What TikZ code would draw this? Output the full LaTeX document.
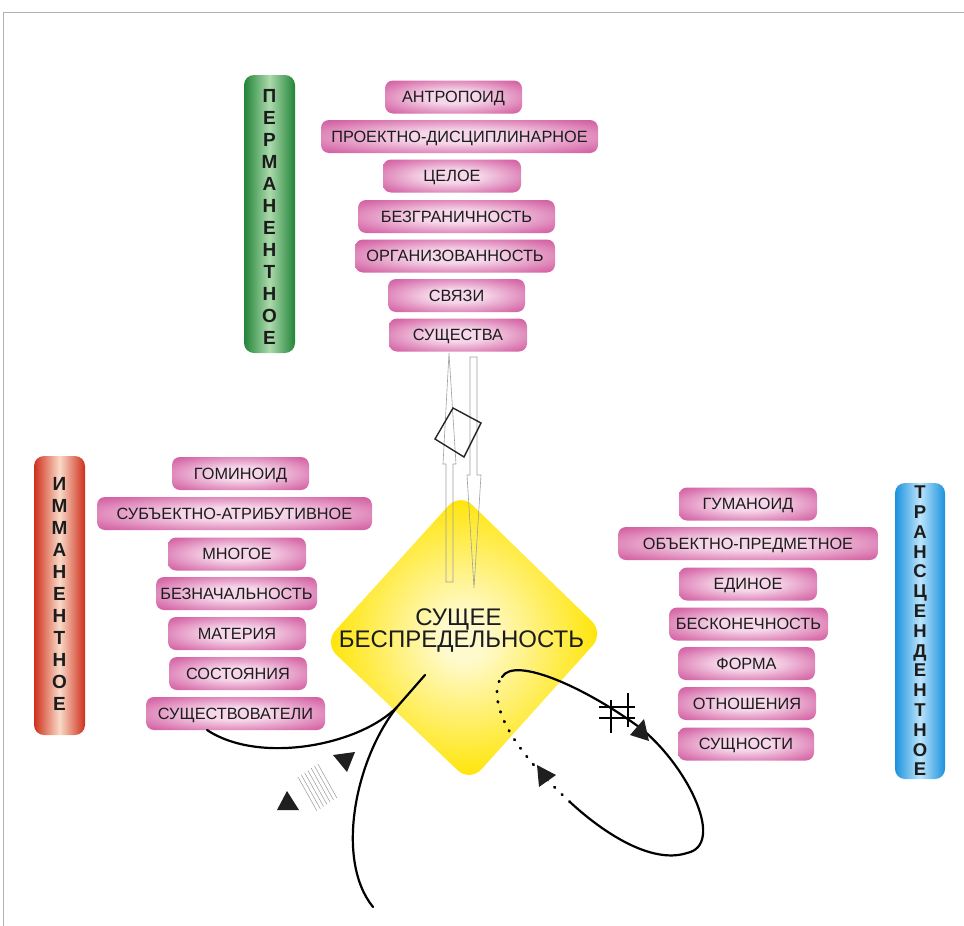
\documentclass[tikz,border=0pt]{standalone}
\usepackage{fontspec}
\setmainfont{Liberation Sans}
\definecolor{pinkD}{RGB}{196,64,142}
\definecolor{pinkM}{RGB}{216,112,172}
\definecolor{pinkL}{RGB}{246,214,233}
\definecolor{gD}{RGB}{34,132,56}
\definecolor{gL}{RGB}{172,218,172}
\definecolor{rD}{RGB}{206,48,28}
\definecolor{rL}{RGB}{250,218,200}
\definecolor{bD}{RGB}{26,146,220}
\definecolor{bL}{RGB}{188,228,252}
\definecolor{yD}{RGB}{255,228,0}
\definecolor{yL}{RGB}{255,250,205}
\definecolor{txt}{RGB}{28,28,28}
\pgfdeclareradialshading{pinksh}{\pgfpoint{0bp}{0bp}}{color(0bp)=(pinkL); color(10bp)=(pinkL); color(30bp)=(pinkM); color(43bp)=(pinkD); color(100bp)=(pinkD)}
\pgfdeclareradialshading{yelsh}{\pgfpoint{0bp}{0bp}}{color(0bp)=(yL); color(4bp)=(yL); color(25bp)=(yD); color(100bp)=(yD)}
\tikzset{
  pbox/.style={shape=rectangle, rounded corners=8pt, shade, shading=pinksh,
    minimum height=33pt, inner sep=0pt, text=txt,
    font=\fontsize{16.3}{19}\selectfont, text height=11.7pt, text depth=0pt},
  vbar/.style={shape=rectangle, rounded corners=10pt, inner sep=0pt},
  barlet/.style={align=center, text=txt, inner sep=0pt,
    font=\bfseries\fontsize{19}{22}\selectfont},
  ctext/.style={anchor=base, text=txt, inner sep=0pt, font=\fontsize{24}{23}\selectfont},
  harrow/.style={draw=gray!75, line width=0.6pt},
  curve/.style={line width=2.2pt, line cap=round},
  dotline/.style={line width=2.8pt, line cap=round, dash pattern=on 0.8pt off 9.6pt},
  hatch/.style={draw=gray!80, line width=0.5pt},
  tri/.style={fill=black!88}
}
\begin{document}
\begin{tikzpicture}[x=1pt,y=-1pt]
\useasboundingbox (0,0) rectangle (964,926);
\draw[gray!60, line width=0.8pt] (964,12) -- (3,12) -- (3,926);

% side bars
\node[vbar, minimum width=51pt, minimum height=278pt, left color=gD, right color=gD, middle color=gL] (gbar) at (269.5,214) {};
\node[barlet] (glet) at (269.5,216.5) {П\\Е\\Р\\М\\А\\Н\\Е\\Н\\Т\\Н\\О\\Е};
\node[vbar, minimum width=51pt, minimum height=279pt, left color=rD, right color=rD, middle color=rL] (rbar) at (59.5,595.5) {};
\node[barlet] (rlet) at (59.5,593.5) {И\\М\\М\\А\\Н\\Е\\Н\\Т\\Н\\О\\Е};
\node[vbar, minimum width=50pt, minimum height=296pt, left color=bD, right color=bD, middle color=bL] (bbar) at (920,631) {};
\node[barlet, font=\bfseries\fontsize{18.5}{19.8}\selectfont] (blet) at (920,631) {Т\\Р\\А\\Н\\С\\Ц\\Е\\Н\\Д\\Е\\Н\\Т\\Н\\О\\Е};

% top stack
\node[pbox, minimum width=137pt] (t1) at (453.5,97) {АНТРОПОИД};
\node[pbox, minimum width=277pt] (t2) at (459.5,136.5) {ПРОЕКТНО-ДИСЦИПЛИНАРНОЕ};
\node[pbox, minimum width=138pt] (t3) at (452,176) {ЦЕЛОЕ};
\node[pbox, minimum width=197pt] (t4) at (456.5,216.5) {БЕЗГРАНИЧНОСТЬ};
\node[pbox, minimum width=200pt] (t5) at (455,256) {ОРГАНИЗОВАННОСТЬ};
\node[pbox, minimum width=137pt] (t6) at (456.5,295.5) {СВЯЗИ};
\node[pbox, minimum width=138pt] (t7) at (458,335) {СУЩЕСТВА};

% left stack
\node[pbox, minimum width=137pt] (l1) at (240.5,473.5) {ГОМИНОИД};
\node[pbox, minimum width=275pt] (l2) at (234.5,513.5) {СУБЪЕКТНО-АТРИБУТИВНОЕ};
\node[pbox, minimum width=138pt] (l3) at (237,554) {МНОГОЕ};
\node[pbox, minimum width=161pt] (l4) at (236.5,593.5) {БЕЗНАЧАЛЬНОСТЬ};
\node[pbox, minimum width=138pt] (l5) at (237,633.5) {МАТЕРИЯ};
\node[pbox, minimum width=138pt] (l6) at (238,673.5) {СОСТОЯНИЯ};
\node[pbox, minimum width=179pt] (l7) at (235.5,713.5) {СУЩЕСТВОВАТЕЛИ};

% right stack
\node[pbox, minimum width=138pt] (r1) at (748,504) {ГУМАНОИД};
\node[pbox, minimum width=260pt] (r2) at (748,543.5) {ОБЪЕКТНО-ПРЕДМЕТНОЕ};
\node[pbox, minimum width=138pt] (r3) at (748,584) {ЕДИНОЕ};
\node[pbox, minimum width=159pt] (r4) at (748.5,624) {БЕСКОНЕЧНОСТЬ};
\node[pbox, minimum width=137pt] (r5) at (746.5,663.5) {ФОРМА};
\node[pbox, minimum width=138pt] (r6) at (747,703.5) {ОТНОШЕНИЯ};
\node[pbox, minimum width=136pt] (r7) at (746,744) {СУЩНОСТИ};

% central diamond
\shade[shading=yelsh, rounded corners=17pt] (460,493) -- (604,633) -- (470,782) -- (324,643) -- cycle;
\node[ctext] (c1) at (458.5,625) {СУЩЕЕ};
\node[ctext] (c2) at (461.5,647) {БЕСПРЕДЕЛЬНОСТЬ};

% hollow arrows
\draw[harrow] (446,582) -- (446,464) -- (443,464) -- (449,353) -- (456,464) -- (453,464) -- (453,582) -- cycle;
\draw[harrow] (470,357) -- (477,357) -- (477,475) -- (481,475) -- (474,588) -- (467,475) -- (470,475) -- cycle;
\draw[line width=1.4pt, black!85] (453,408) -- (481,423) -- (464,457) -- (435,439) -- cycle;

% bottom-left curves
\coordinate (ja) at (425,675);
\coordinate (jb) at (397,707);
\coordinate (ea) at (207,730);
\coordinate (eb) at (373,907);
\draw[curve] (ja) -- (jb);
\draw[curve] (jb) .. controls (360,745) and (260,765) .. (ea);
\draw[curve] (jb) .. controls (355,760) and (335,860) .. (eb);
\fill[tri] (333,755) -- (355,752) -- (347,772) -- cycle;
\fill[tri] (277,810) -- (299,810) -- (287,791) -- cycle;
\foreach \i in {0,...,6} \draw[hatch] ({298+3.3*\i},{777-2.2*\i}) -- ({317+3.3*\i},{811-2.2*\i});

% right loop
\coordinate (ls) at (502,677);
\coordinate (le) at (570,802);
\draw[curve] (ls) .. controls (515,655) and (590,690) .. (643,730) .. controls (690,770) and (725,845) .. (687,853) .. controls (650,865) and (600,830) .. (le);
\draw[dotline] (le) .. controls (530,765) and (497,725) .. (497,692) .. controls (497,685) and (499,680) .. (ls);
\fill[tri] (630,735) -- (644,719) -- (649,741) -- cycle;
\fill[tri] (539,787) -- (556,775) -- (537,765) -- cycle;
% hash sign
\draw[line width=2pt] (611,700) -- (611,733);
\draw[line width=2pt] (628,693) -- (628,727);
\draw[line width=2pt] (599,707) -- (635,707);
\draw[line width=2pt] (599,718) -- (635,718);
\end{tikzpicture}
\end{document}
